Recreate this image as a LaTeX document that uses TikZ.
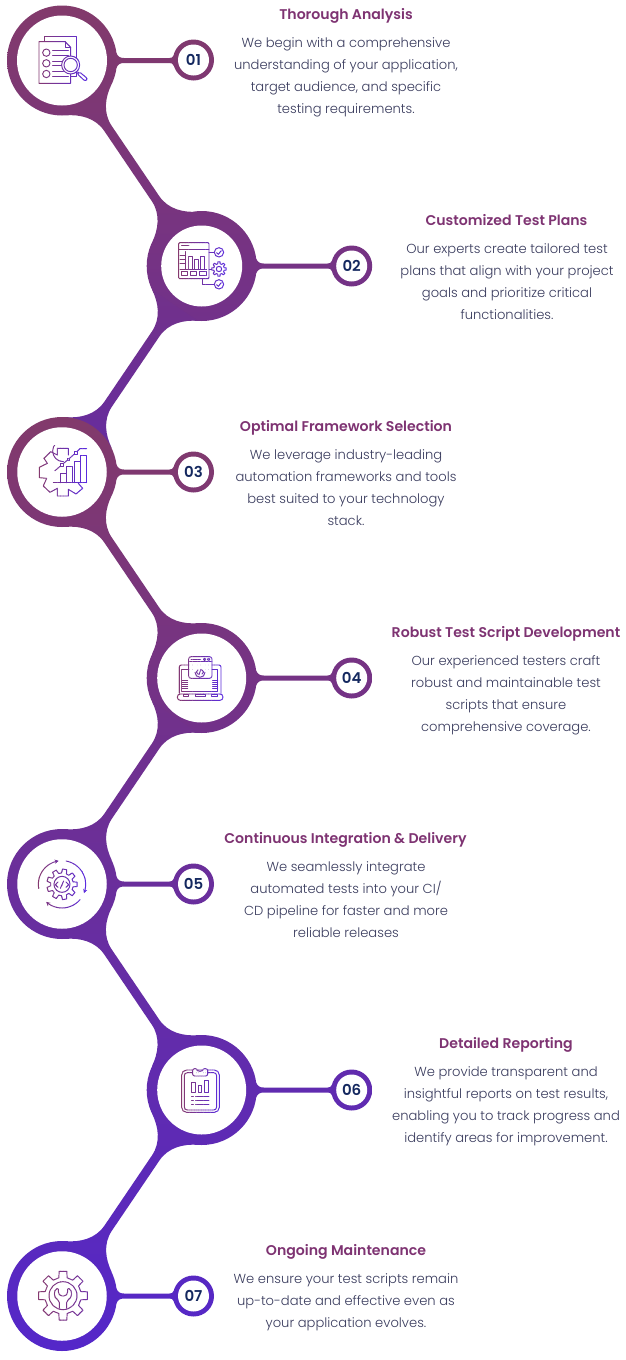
\documentclass[tikz,border=0pt]{standalone}
\usepackage{fontspec}
\usetikzlibrary{arrows.meta}
\setmainfont{Poppins}
\newfontfamily\bodyf{Poppins Light}
\newfontfamily\titlef{Poppins SemiBold}
\definecolor{cTop}{HTML}{823A6B}
\definecolor{cMid}{HTML}{72318A}
\definecolor{cLow}{HTML}{662C9E}
\definecolor{cEnd}{HTML}{5427C9}
\definecolor{titlec}{HTML}{7E3372}
\definecolor{bodyc}{HTML}{3A3C5E}
\definecolor{numc}{HTML}{14285F}
\definecolor{icA}{HTML}{85396F}
\definecolor{icB}{HTML}{5A2BE0}
\pgfdeclarelayer{bg}
\pgfsetlayers{bg,main}
\newcommand\lnstrut{\rule[-4pt]{0pt}{15pt}}
\tikzset{
 hub/.style={circle,fill=white,inner sep=0pt,minimum size=#1},
 badge/.style={circle,fill=white,inner sep=0pt,minimum size=31pt,text=numc,font=\titlef\fontsize{15}{18}\selectfont},
 head/.style={text=titlec,inner sep=0pt,yshift=-2pt,text height=11pt,text depth=4pt,font=\titlef\fontsize{14.1}{18}\selectfont},
 para/.style={text=bodyc,inner sep=0pt,align=center,yshift=-1pt,font=\bodyf\fontsize{13.1}{22}\selectfont},
 ico/.style={line width=.95pt,line cap=round,line join=round},
}
% flared diagonal link between two hubs, counter-clockwise so that it unites with the circles
\newcommand\neck[3]{{[shift={(#1.center)},rotate=#2,x=1pt,y=1pt]
 (47.6,-27.5) .. controls (54.6,-15.4) and (66,-4.5) .. (82,-4.5) -- (#3-82,-4.5)
 .. controls (#3-66,-4.5) and (#3-54.6,-15.4) .. (#3-47.6,-27.5)
 -- (#3-47.6,27.5) .. controls (#3-54.6,15.4) and (#3-66,4.5) .. (#3-82,4.5)
 -- (82,4.5) .. controls (66,4.5) and (54.6,15.4) .. (47.6,27.5) -- cycle}}
% flared horizontal link hub -> badge
\newcommand\arm[2]{{[shift={(#1.center)},x=1pt,y=1pt]
 (54.5,-7.6) .. controls (55.5,-4) and (58,-2.5) .. (62,-2.5) -- (#2-24,-2.5)
 .. controls (#2-22,-2.5) and (#2-20.5,-3) .. (#2-19.8,-5.3)
 -- (#2-19.8,5.3) .. controls (#2-20.5,3) and (#2-22,2.5) .. (#2-24,2.5)
 -- (62,2.5) .. controls (58,2.5) and (55.5,4) .. (54.5,7.6) -- cycle}}
\newcommand\ring[2]{(#1.center) circle[radius=#2pt]}
% gear outline in the current scope
\newcommand\gearp[7]{\begin{scope}[shift={(#1,#2)}]
 \draw ({-#6}:#4) \foreach \k in {0,...,\numexpr#3-1\relax}{
   -- ({\k*360/#3-#6}:#4) -- ({\k*360/#3-#7}:#5) -- ({\k*360/#3+#7}:#5) -- ({\k*360/#3+#6}:#4)} -- cycle;
 \end{scope}}
% draw #6 with a left-to-right colour gradient
\newcommand\gradicon[6][icB]{\foreach \i in {0,...,17}{
  \pgfmathtruncatemacro\pct{100*\i/17}
  \colorlet{icc}{#1!\pct!icA}
  \pgfmathsetmacro\xa{#2+(#3-#2)*\i/18}
  \pgfmathsetmacro\xb{#2+(#3-#2)*(\i+1)/18+.3}
  \begin{scope}
   \clip (\xa,#4) rectangle (\xb,#5);
   \begin{scope}[ico,color=icc]#6\end{scope}
  \end{scope}}}
\newcommand\zoomat[3]{\begin{scope}[shift={(#1,#2)},x=.3333pt,y=-.3333pt]#3\end{scope}}
\newcommand\numtxt[1]{\raisebox{-5.5pt}[0pt][0pt]{#1}}
\begin{document}
\begin{tikzpicture}[x=1pt,y=-1pt]
\useasboundingbox (0,0) rectangle (626,1360);
% hubs
\node[hub=90pt] (c1) at (62,60.5) {};
\node[hub=81pt] (c2) at (201.7,266) {};
\node[hub=89.5pt] (c3) at (62,472) {};
\node[hub=89pt] (c4) at (201.7,678) {};
\node[hub=89.5pt] (c5) at (62,884) {};
\node[hub=89pt] (c6) at (201.7,1090) {};
\node[hub=89.5pt] (c7) at (62,1296) {};
% badges
\node[badge] (n1) at (193.5,60) {\numtxt{01}};
\node[badge] (n2) at (351.7,266) {\numtxt{02}};
\node[badge] (n3) at (193.5,472) {\numtxt{03}};
\node[badge] (n4) at (351.7,678) {\numtxt{04}};
\node[badge] (n5) at (193.5,884) {\numtxt{05}};
\node[badge] (n6) at (351.7,1090) {\numtxt{06}};
\node[badge] (n7) at (193.5,1296) {\numtxt{07}};
\begin{pgfonlayer}{bg}
\fill[white] (0,0) rectangle (626,1360);
\shade[top color=cTop,bottom color=cMid,middle color=cTop!50!cMid]
  \ring{c1}{55} \ring{c2}{55} \ring{n1}{20.5} \ring{n2}{20.5}
  \neck{c1}{-55.9}{248.8} \arm{c1}{131.5} \arm{c2}{150};
\shade[top color=cMid,bottom color=cLow,middle color=cMid!50!cLow] \neck{c2}{-124.1}{248.8};
\shade[top color=cTop,bottom color=cMid,middle color=cTop!50!cMid]
  \ring{c3}{55} \ring{c4}{55} \ring{n3}{20.5} \ring{n4}{20.5}
  \neck{c3}{-55.9}{248.8} \arm{c3}{131.5} \arm{c4}{150};
\shade[top color=cMid,bottom color=cEnd,middle color=cMid!50!cEnd]
  \neck{c4}{-124.1}{248.8}
  \ring{c5}{55} \ring{c6}{55} \ring{c7}{55} \ring{n5}{20.5} \ring{n6}{20.5} \ring{n7}{20.5}
  \arm{c5}{131.5} \arm{c6}{150} \arm{c7}{131.5}
  \neck{c5}{-55.9}{248.8} \neck{c6}{-124.1}{248.8};
\end{pgfonlayer}
% texts
\node[head] (t1) at (346,14) {Thorough Analysis};
\node[para] (b1) at (346,76) {\lnstrut We begin with a comprehensive\\understanding of your application,\\target audience, and specific\\testing requirements.\lnstrut};
\node[head] (t2) at (506.5,220) {Customized Test Plans};
\node[para] (b2) at (507,282) {\lnstrut Our experts create tailored test\\plans that align with your project\\goals and prioritize critical\\functionalities.\lnstrut};
\node[head] (t3) at (346,426) {Optimal Framework Selection};
\node[para] (b3) at (346,488) {\lnstrut We leverage industry-leading\\automation frameworks and tools\\best suited to your technology\\stack.\lnstrut};
\node[head] (t4) at (506,632) {Robust Test Script Development};
\node[para] (b4) at (506,694) {\lnstrut Our experienced testers craft\\robust and maintainable test\\scripts that ensure\\comprehensive coverage.\lnstrut};
\node[head] (t5) at (345.5,838) {Continuous Integration \& Delivery};
\node[para] (b5) at (346,900) {\lnstrut We seamlessly integrate\\automated tests into your CI/\\CD pipeline for faster and more\\reliable releases\lnstrut};
\node[head] (t6) at (506,1043) {Detailed Reporting};
\node[para] (b6) at (506,1105) {\lnstrut We provide transparent and\\insightful reports on test results,\\enabling you to track progress and\\identify areas for improvement.\lnstrut};
\node[head] (t7) at (346,1250) {Ongoing Maintenance};
\node[para] (b7) at (346,1301) {\lnstrut We ensure your test scripts remain\\up-to-date and effective even as\\your application evolves.\lnstrut};
% icon 1
\gradicon{36}{90}{33}{88}{\zoomat{0}{0}{
 \draw (132,125) -- (132,110) -- (228,110) -- (228,230) -- (212,230);
 \draw[fill=white] (117,125) -- (195,125) -- (212,142) -- (212,250) -- (117,250) -- cycle;
 \draw (195,125) -- (195,142) -- (212,142);
 \foreach \yy in {158,190,222} {\draw (139,\yy) circle[radius=11];}
 \draw (158,152) -- (205,152) (158,165) -- (205,165) (158,183) -- (190,183) (158,197) -- (185,197) (158,215) -- (190,215) (158,228) -- (205,228);
 \draw[fill=white,rounded corners=2pt] (231,221) -- (237,215) -- (263,236) -- (256,244) -- cycle;
 \draw[fill=white] (212,195) circle[radius=27];
 \draw (212,195) circle[radius=20];
}}
% icon 2
\gradicon{177}{228}{240}{292}{\zoomat{130}{200}{
 \draw[rounded corners=1pt] (146,128) rectangle (237,236);
 \draw (146,147) -- (237,147) (155,137) -- (177,137);
 \draw (167,155) -- (167,207) (150,165) -- (167,165) (150,178) -- (167,178) (150,191) -- (167,191) (150,207) -- (230,207);
 \draw (175,207) -- (175,168) -- (188,168) -- (188,207) (193,207) -- (193,178) -- (206,178) -- (206,207) (211,207) -- (211,168) -- (224,168) -- (224,207);
 \draw (155,215) rectangle (173,227) (181,215) rectangle (200,227) (208,215) rectangle (228,227);
 \draw (237,157) -- (253,157) (218,236) -- (218,253) -- (253,253) (237,207) -- (245,207);
 \draw (267,157) circle[radius=14] (267,253) circle[radius=14];
 \draw (260,158) -- (265,163) -- (274,152) (260,254) -- (265,259) -- (274,248);
 \gearp{267}{207}{8}{16}{22}{14}{8}
 \draw (267,207) circle[radius=8];
}}
% icon 3
\gradicon{38}{88}{445}{498}{\zoomat{0}{410}{
 \draw (205,135) -- (205,115) -- (172,115) -- (172,135) -- (152,125) -- (132,145) -- (142,160) -- (118,172) -- (118,203) -- (140,205) -- (130,228) -- (150,247) -- (172,235) -- (172,258) -- (205,258) -- (205,238) -- (228,252) -- (248,235) -- (235,220);
 \draw (190,155) arc[start angle=90,end angle=270,radius=32];
 \draw (160,218) -- (260,218);
 \draw (182,218) -- (182,190) -- (198,190) -- (198,218);
 \draw (200,218) -- (200,170) -- (218,170) -- (218,218);
 \draw (222,218) -- (222,155) -- (240,155) -- (240,218);
 \draw (242,218) -- (242,135) -- (260,135) -- (260,218);
 \draw (165,182) -- (185,165) -- (205,148) -- (228,128) -- (240,116) -- (260,116);
 \draw[fill=white] (181,161) rectangle (189,169) (201,144) rectangle (209,152) (224,124) rectangle (232,132);
}}
% icon 4
\gradicon{176}{225}{654}{702}{\zoomat{130}{610}{
 \draw[rounded corners=2pt] (148,250) -- (148,165) -- (273,165) -- (273,250);
 \draw (155,243) -- (155,178) -- (263,178) -- (263,243) -- cycle;
 \draw[rounded corners=3pt] (142,252) rectangle (279,271);
 \draw (160,254) -- (176,254) -- (176,260) -- (160,260) -- cycle (195,254) -- (225,254) -- (225,260) -- (195,260) -- cycle (243,254) -- (262,254) -- (262,260) -- (243,260) -- cycle;
 \foreach \yy in {212,218,224,230,236} {\draw (157,\yy) -- (173,\yy) (248,\yy) -- (263,\yy);}
 \draw[fill=white,rounded corners=2.5pt] (176,140) rectangle (246,205);
 \draw (176,155) -- (246,155) (183,148) -- (212,148);
 \draw (224,148) circle[radius=3.5] (236,148) circle[radius=3.5];
 \draw (195,187) arc[start angle=180,end angle=0,radius=15];
 \draw (204,180) -- (199,186) -- (204,192) (216,180) -- (221,186) -- (216,192) (213,178) -- (207,194);
}}
% icon 5
\gradicon{36}{88}{858}{912}{\zoomat{0}{820}{
 \gearp{186}{193}{9}{34}{46}{13}{8}
 \draw (186,193) circle[radius=24];
 \draw (174,186) -- (166,194) -- (174,202) (198,186) -- (206,194) -- (198,202) (181,205) -- (191,183);
 \draw[-{Stealth[length=4pt,width=4pt]}] plot[smooth,domain=190:98,samples=14] ({186+71*cos(\x)},{193+71*sin(-\x)});
 \draw[-{Stealth[length=4pt,width=4pt]}] plot[smooth,domain=80:-22,samples=14] ({186+71*cos(\x)},{193+71*sin(-\x)});
 \draw[-{Stealth[length=4pt,width=4pt]}] plot[smooth,domain=-40:-132,samples=14] ({186+71*cos(\x)},{193+71*sin(-\x)});
}}
% icon 6
\gradicon{180}{222}{1064}{1115}{\zoomat{130}{1030}{
 \draw[rounded corners=5pt] (155,120) rectangle (268,247);
 \draw[rounded corners=3pt] (163,128) rectangle (260,240);
 \draw[fill=white,rounded corners=2pt] (188,138) -- (188,116) -- (202,116) arc[start angle=180,end angle=0,radius=8] -- (233,116) -- (233,138) -- cycle;
 \draw (185,157) rectangle (195,188) (204,167) rectangle (215,188) (224,152) rectangle (236,188);
 \foreach \yy in {198,210,222} {\draw (185,\yy) -- (190,\yy) (197,\yy) -- (237,\yy);}
}}
% icon 7
\gradicon[icA!55!icB]{38}{88}{1270}{1322}{\zoomat{0}{1220}{
 \gearp{189}{227}{8}{55}{74}{13}{9}
 \draw (189,227) circle[radius=42];
 \draw[rounded corners=1.5pt] (178,265) -- (178,243) .. controls (160,232) and (160,212) .. (175,203) -- (175,220) -- (182,228) -- (196,228) -- (203,220) -- (203,203) .. controls (218,212) and (218,232) .. (200,243) -- (200,265);
}}
\end{tikzpicture}
\end{document}
